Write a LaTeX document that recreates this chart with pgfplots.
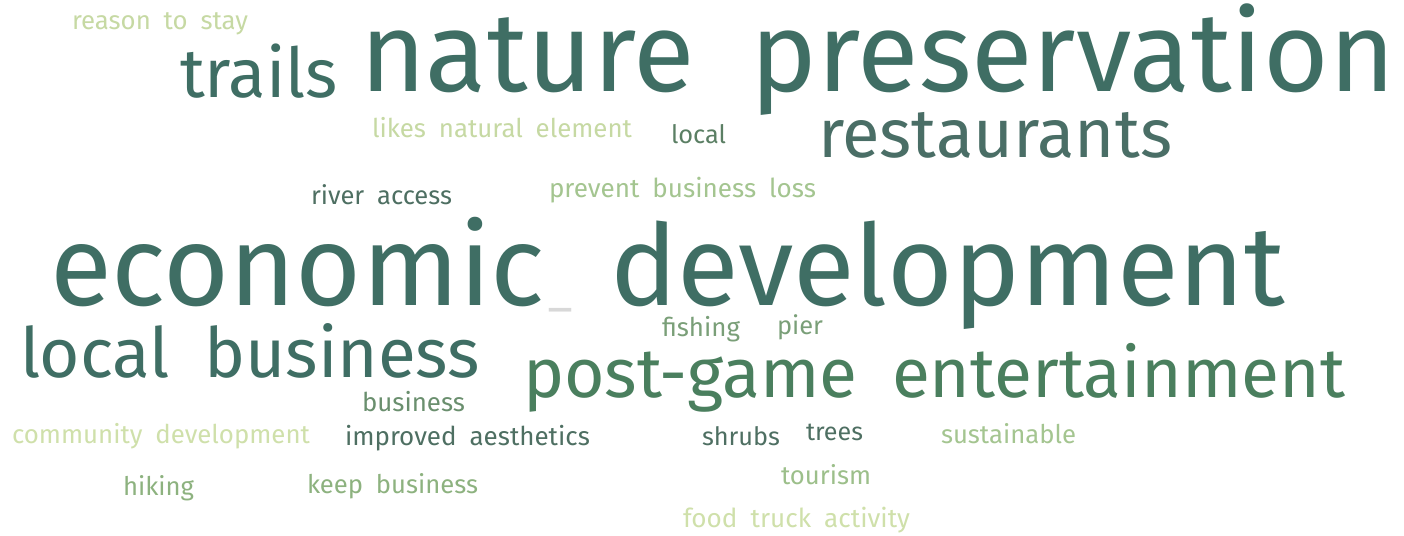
\documentclass[border=0pt]{standalone}
\usepackage{fontspec}
\setmainfont{Fira Sans}
\usepackage{graphicx}
\usepackage{pgfplots}
\pgfplotsset{compat=1.18}

\definecolor{deep}{HTML}{3F6E64}
\definecolor{rest}{HTML}{4A6E66}
\definecolor{post}{HTML}{4A7F5E}
\definecolor{dark}{HTML}{4E6F62}
\definecolor{mid}{HTML}{5B7F64}
\definecolor{bus}{HTML}{6A8F6E}
\definecolor{fish}{HTML}{7A9F78}
\definecolor{hike}{HTML}{8DB27F}
\definecolor{tour}{HTML}{9CBF8A}
\definecolor{sust}{HTML}{A4C590}
\definecolor{pale}{HTML}{C6D9A3}
\definecolor{paler}{HTML}{CFE0AA}
\definecolor{under}{HTML}{D8D8D8}

% word={width px}{colour}{text}; coordinate = left edge, baseline (px from top)
\pgfplotsset{
  word/.style n args={3}{
    draw=none, mark=none,
    every node near coord/.append style={anchor=base west, inner sep=0pt, outer sep=0pt},
    nodes near coords={\resizebox{#1pt}{!}{\fontsize{20}{24}\selectfont\spaceskip=0.5em\relax\color{#2}#3}},
  },
}

\begin{document}
\begin{tikzpicture}
\useasboundingbox (0,0) rectangle (1404pt,535pt);
\fill[white] (0,0) rectangle (1404pt,535pt);
\begin{axis}[
  at={(0,0)}, anchor=south west,
  scale only axis, width=1404pt, height=535pt,
  xmin=0, xmax=1404, ymin=0, ymax=535,
  y dir=reverse,
  hide axis, clip=false,
]
\addplot[word={176}{pale}{reason to stay}] coordinates {(72,30)};
\addplot[word={158}{deep}{trails}] coordinates {(180,97)};
\addplot[word={1035}{deep}{nature preservation}] coordinates {(360,92)};
\addplot[word={260}{pale}{likes natural element}] coordinates {(372,137)};
\addplot[word={55}{mid}{local}] coordinates {(671,143)};
\addplot[word={354}{rest}{restaurants}] coordinates {(818,157)};
\addplot[word={141}{dark}{river access}] coordinates {(311,204)};
\addplot[word={267}{sust}{prevent business loss}] coordinates {(549,197)};
\addplot[word={495}{deep}{economic}] coordinates {(50,305)};
\addplot[word={24}{under}{\_}] coordinates {(548,305)};
\addplot[word={675}{deep}{development}] coordinates {(610,305)};
\addplot[word={78}{fish}{fishing}] coordinates {(662,336)};
\addplot[word={46}{fish}{pier}] coordinates {(777,334)};
\addplot[word={460}{deep}{local business}] coordinates {(20,377)};
\addplot[word={822}{post}{post-game entertainment}] coordinates {(523,397)};
\addplot[word={103}{bus}{business}] coordinates {(362,411)};
\addplot[word={298}{paler}{community development}] coordinates {(12,443)};
\addplot[word={245}{dark}{improved aesthetics}] coordinates {(345,445)};
\addplot[word={78}{dark}{shrubs}] coordinates {(702,445)};
\addplot[word={57}{dark}{trees}] coordinates {(806,440)};
\addplot[word={135}{sust}{sustainable}] coordinates {(941,443)};
\addplot[word={71}{hike}{hiking}] coordinates {(123,495)};
\addplot[word={171}{hike}{keep business}] coordinates {(307,493)};
\addplot[word={90}{tour}{tourism}] coordinates {(781,484)};
\addplot[word={227}{paler}{food truck activity}] coordinates {(683,527)};
\end{axis}
\end{tikzpicture}
\end{document}
